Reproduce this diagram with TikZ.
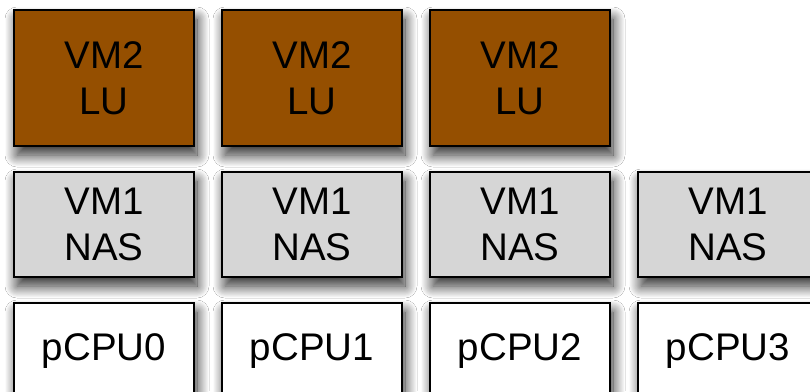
\documentclass[tikz,border=0pt]{standalone}
\usepackage{fontspec}
\setmainfont{Liberation Sans}
\usetikzlibrary{shadows.blur}
\definecolor{lubrown}{HTML}{954F00}
\definecolor{nasgray}{HTML}{D6D6D6}
\tikzset{
  box/.style={draw=black, line width=2.8pt, minimum width=180pt, inner sep=0pt,
    align=center, font=\fontsize{38.5}{46}\selectfont,
    blur shadow={shadow xshift=3pt, shadow yshift=-9pt, shadow blur radius=12pt, shadow opacity=85, shadow blur steps=20}},
  lubox/.style={box, fill=lubrown, minimum height=136pt},
  nasbox/.style={box, fill=nasgray, minimum height=105pt},
  cpubox/.style={box, fill=white, minimum height=117pt, text height=27pt, text depth=30pt}
}
\begin{document}
\begin{tikzpicture}[x=1pt,y=-1pt]
\useasboundingbox (0,0) rectangle (810,391);
\fill[white] (0,0) rectangle (810,391);
\foreach \i/\x in {0/104,1/312,2/520} {
  \node[lubox] (lu\i) at (\x,78) {VM2\\LU};
}
\foreach \i/\x in {0/104,1/312,2/520,3/728} {
  \node[nasbox] (nas\i) at (\x,224.5) {VM1\\NAS};
}
\node[cpubox] (cpu0) at (104,361.5) {pCPU0};
\node[cpubox] (cpu1) at (312,361.5) {pCPU1};
\node[cpubox] (cpu2) at (520,361.5) {pCPU2};
\node[cpubox] (cpu3) at (728,361.5) {pCPU3};
\end{tikzpicture}
\end{document}
